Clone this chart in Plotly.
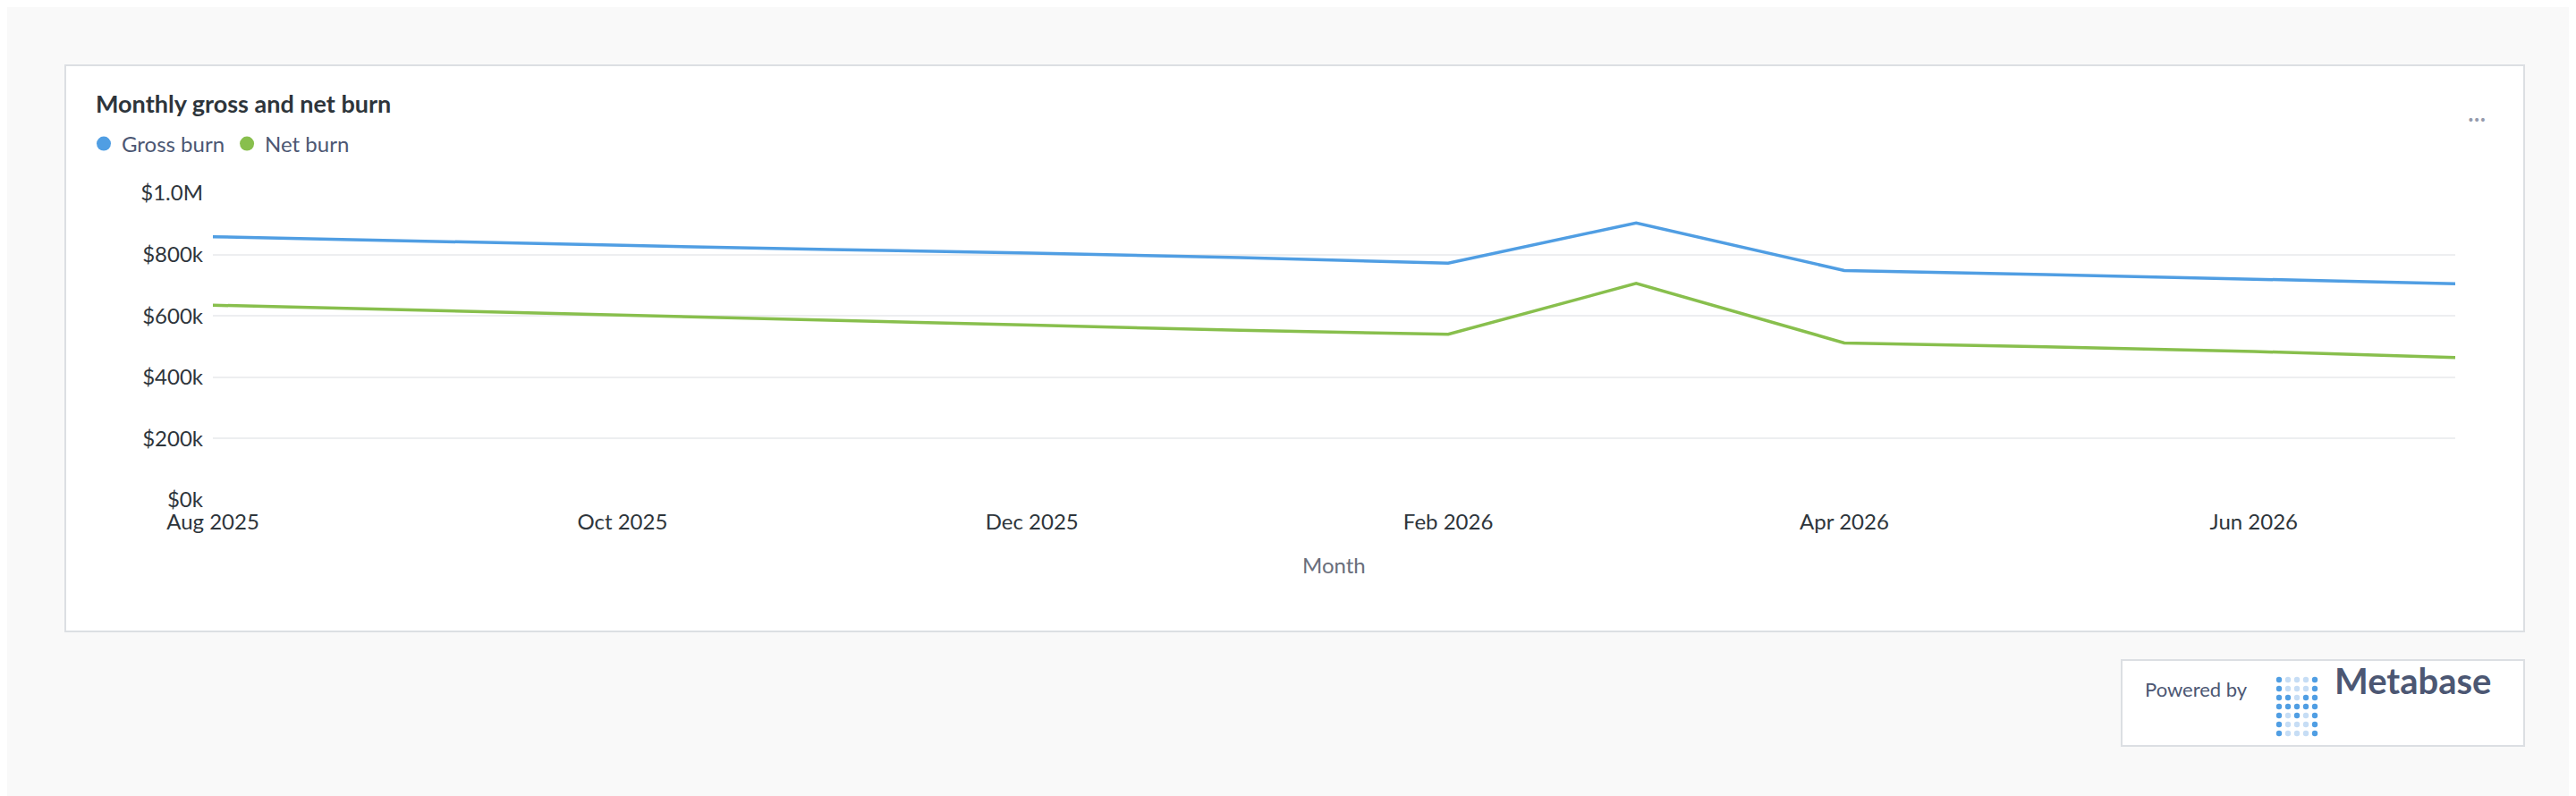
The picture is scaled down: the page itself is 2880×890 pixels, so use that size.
import plotly.graph_objects as go

months = ["2025-08-01","2025-09-01","2025-10-01","2025-11-01","2025-12-01","2026-01-01",
          "2026-02-01","2026-03-01","2026-04-01","2026-05-01","2026-06-01","2026-07-01"]
gross_burn = [858000, 845000, 830000, 816000, 805000, 790000, 772000, 903000, 748000, 735000, 720000, 705000]
net_burn = [635000, 619000, 602000, 587000, 570000, 553000, 540000, 706000, 512000, 499000, 484000, 464000]
y_ticks = [0, 200000, 400000, 600000, 800000, 1000000]
y_tick_labels = ["$0k", "$200k", "$400k", "$600k", "$800k", "$1.0M"]

W, H = 2880, 890
L, R, T, B = 230, 2737, 208, 551
def px(x): return (x - L) / (R - L)
def py(y): return (B - y) / (B - T)

fig = go.Figure()
for name, vals, col in [("Gross burn", gross_burn, "#509EE3"), ("Net burn", net_burn, "#88BF4D")]:
    fig.add_trace(go.Scatter(x=months, y=vals, mode="lines", name=name, showlegend=False,
                             line=dict(color=col, width=3.5)))
    fig.add_trace(go.Scatter(x=[None], y=[None], mode="markers", name=name,
                             marker=dict(color=col, size=18)))

shapes = [
    dict(type="rect", xref="paper", yref="paper", x0=px(65), x1=px(2814), y0=py(698), y1=py(65),
         fillcolor="white", line=dict(color="#DCDFE3", width=2), layer="below"),
    dict(type="rect", xref="paper", yref="paper", x0=px(2364), x1=px(2814), y0=py(826), y1=py(730),
         fillcolor="white", line=dict(color="#DCDFE3", width=2), layer="below"),
]
cx0, cy0 = 2540, 752
for c in range(5):
    for r in range(7):
        if c in (0, 4) or (c == 1 and r in (2, 3)) or (c == 2 and r in (3, 4)) or (c == 3 and r in (2, 3)):
            col = "#509EE3"
        else:
            col = "#C6DDF5"
        x, y = cx0 + c * 10, cy0 + r * 10
        shapes.append(dict(type="circle", xref="paper", yref="paper",
                           x0=px(x - 3.2), x1=px(x + 3.2), y0=py(y + 3.2), y1=py(y - 3.2),
                           fillcolor=col, line=dict(width=0)))

annotations = [
    dict(text="<b>Monthly gross and net burn</b>", x=px(97), y=py(108), xref="paper", yref="paper",
         xanchor="left", yanchor="middle", showarrow=False, font=dict(size=27, color="#2E353B")),
    dict(text="Month", x=0.5, y=py(623), xref="paper", yref="paper", showarrow=False,
         yanchor="middle", font=dict(size=24, color="#696E7B")),
    dict(text="···", x=px(2773), y=py(106), xref="paper", yref="paper", showarrow=False,
         font=dict(size=26, color="#949AAB")),
    dict(text="Powered by", x=px(2388), y=py(778), xref="paper", yref="paper", showarrow=False,
         xanchor="left", font=dict(size=22, color="#4C5773")),
    dict(text="<b>Metabase</b>", x=px(2600), y=py(779), xref="paper", yref="paper", showarrow=False,
         xanchor="left", font=dict(size=40, color="#4C5773")),
]

fig.update_layout(
    width=W, height=H, paper_bgcolor="#F9F9F9", plot_bgcolor="white",
    margin=dict(l=L, r=W - R, t=T, b=H - B),
    font=dict(family="Lato", color="#4C5773"),
    shapes=shapes, annotations=annotations,
    showlegend=True,
    legend=dict(orientation="h", x=px(88), y=py(153), xref="paper", yref="paper",
                xanchor="left", yanchor="middle", font=dict(size=24, color="#4C5773"),
                bgcolor="rgba(0,0,0,0)", itemwidth=30),
    xaxis=dict(type="date", range=["2025-08-01", "2026-07-01"], dtick="M2", tick0="2025-08-01",
               tickformat="%b %Y", showgrid=False, zeroline=False, ticklabelstandoff=8,
               showline=False, tickfont=dict(size=24, color="#2E353B"), ticks=""),
    yaxis=dict(range=[0, 1000000], tickvals=y_ticks, ticktext=y_tick_labels,
               showgrid=True, gridcolor="#EDEEF0", gridwidth=2, zeroline=False,
               tickfont=dict(size=24, color="#2E353B"), ticks="", ticklabelstandoff=10),
)
fig.write_html("out.html")
